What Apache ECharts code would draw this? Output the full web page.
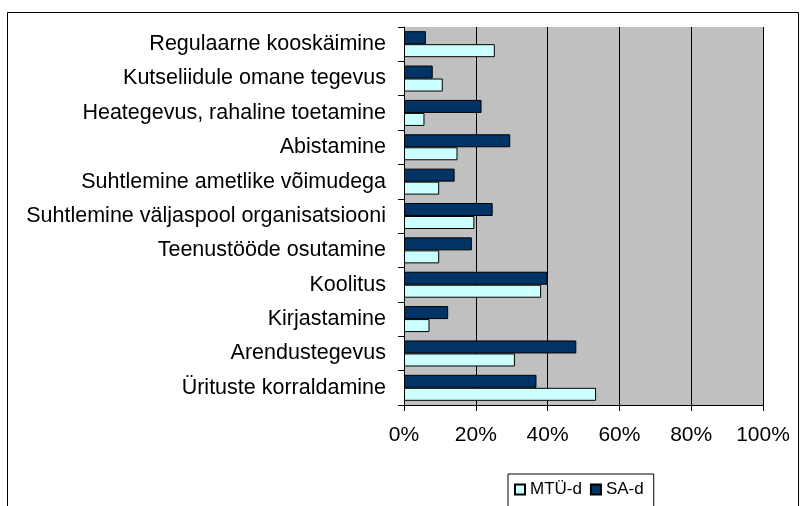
<!DOCTYPE html>
<html><head><meta charset="utf-8">
<script src="https://cdn.jsdelivr.net/npm/echarts@6/dist/echarts.min.js"></script>
<style>html,body{margin:0;padding:0;background:#fff}#c{width:800px;height:506px}</style>
</head><body><div id="c"></div>
<script>
// categories listed bottom-to-top (ECharts category axis starts at bottom)
var categories = ["Ürituste korraldamine","Arendustegevus","Kirjastamine","Koolitus","Teenustööde osutamine","Suhtlemine väljaspool organisatsiooni","Suhtlemine ametlike võimudega","Abistamine","Heategevus, rahaline toetamine","Kutseliidule omane tegevus","Regulaarne kooskäimine"];
var mtuValues = [53.5, 30.9, 7.1, 38.2, 9.8, 19.6, 9.8, 14.9, 5.7, 10.8, 25.3];
var saValues  = [36.9, 48.0, 12.3, 40.0, 18.9, 24.7, 14.1, 29.6, 21.6, 8.0, 6.1];
var seriesNames = ["MTÜ-d", "SA-d"];
var xTicks = [0, 20, 40, 60, 80, 100];

var chart = echarts.init(document.getElementById('c'), null, {renderer:'canvas'});
var font = 'Liberation Sans, Arial, sans-serif';
chart.setOption({
  animation: false,
  backgroundColor: '#fff',
  graphic: [{type:'rect', shape:{x:7.5, y:12.5, width:791, height:500}, style:{fill:'none', stroke:'#000', lineWidth:1}, z:-1}],
  grid: {left:404, right:37, top:27, bottom:101, show:true, backgroundColor:'#c0c0c0', borderWidth:0},
  legend: {
    data: seriesNames, top: 474, left: 508,
    borderColor:'#000', borderWidth:1, padding:[7,10,14,6],
    itemWidth:10, itemHeight:10, itemGap:8, icon:'rect',
    textStyle:{fontFamily:font, fontSize:17, color:'#000'}
  },
  xAxis: {
    type:'value', min:xTicks[0], max:xTicks[xTicks.length-1], interval:20,
    axisLine:{show:true, lineStyle:{color:'#000'}},
    axisTick:{show:true, length:6, lineStyle:{color:'#000'}},
    splitLine:{show:true, lineStyle:{color:'#000', width:1}},
    axisLabel:{formatter:'{value}%', fontFamily:font, fontSize:21, color:'#000', margin:20}
  },
  yAxis: {
    type:'category', data:categories,
    axisLine:{show:true, lineStyle:{color:'#000'}},
    axisTick:{show:true, length:6, lineStyle:{color:'#000'}},
    axisLabel:{fontFamily:font, fontSize:21.5, color:'#000', margin:18}
  },
  series: [
    {name:seriesNames[1], type:'bar', data:saValues, barWidth:13, barGap:'0%',
     itemStyle:{color:'#003366', borderColor:'#000', borderWidth:1}},
    {name:seriesNames[0], type:'bar', data:mtuValues, barWidth:13, barGap:'0%',
     itemStyle:{color:'#ccffff', borderColor:'#000', borderWidth:1}}
  ]
});
</script></body></html>
